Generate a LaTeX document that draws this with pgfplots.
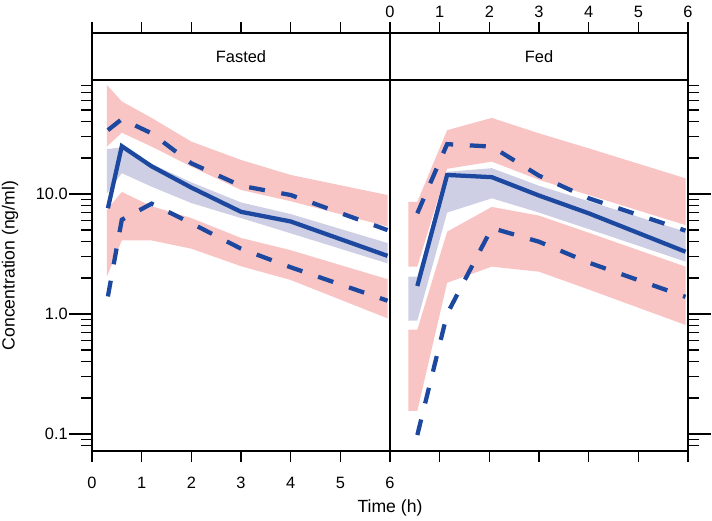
\documentclass[border=0pt]{standalone}
\usepackage{fontspec}
\setmainfont{Liberation Sans}
\usepackage{pgfplots}
\pgfplotsset{compat=1.18}
\definecolor{pinkband}{RGB}{249,196,196}
\definecolor{lavband}{RGB}{206,206,228}
\definecolor{medblue}{RGB}{28,72,160}
\newcommand{\lblfont}{\fontsize{12.3}{14}\selectfont}
\newcommand{\axfont}{\fontsize{13.2}{15}\selectfont}
\begin{document}
\begin{tikzpicture}
\useasboundingbox (-69pt,-51.75pt) rectangle (465pt,338.25pt);
% ---------------- Fasted ----------------
\begin{semilogyaxis}[name=L, at={(0pt,0pt)}, anchor=south west,
  scale only axis, width=223.5pt, height=278.25pt,
  xmin=0, xmax=6, ymin=0.0722, ymax=89,
  xtick=\empty, tick align=outside,
  major tick length=17pt, minor tick length=8.25pt,
  ytick={0.1,1,10}, yticklabels={0.1,1.0,10.0}, ytick pos=left,
  minor ytick={0.08,0.09,0.2,0.3,0.4,0.5,0.6,0.7,0.8,0.9,2,3,4,5,6,7,8,9,20,30,40,50,60,70,80},
  axis line style={line width=1.1pt},
  tick style={black, line width=1.1pt},
  tick label style={font=\lblfont},
  yticklabel style={inner xsep=1pt}]
\addplot[fill=pinkband, draw=none] coordinates {
 (0.3,81) (0.6,59) (1.2,43) (2,27.3) (3,19.2) (4,14.4) (5.95,9.8)
 (5.95,5.35) (4,8.7) (3,10.8) (2,16.9) (1.2,24.8) (0.6,32.4) (0.3,24.8)};
\addplot[fill=lavband, draw=none] coordinates {
 (0.3,23.6) (0.6,24.5) (1.2,17.8) (2,12.5) (3,8.5) (4,6.8) (5.95,3.9)
 (5.95,2.64) (4,4.7) (3,6.3) (2,8.4) (1.2,11.5) (0.6,14.9) (0.3,10.1)};
\addplot[fill=pinkband, draw=none] coordinates {
 (0.3,7.4) (0.6,10.4) (1.2,7.9) (2,6.3) (3,4.3) (4,3.4) (5.95,1.95)
 (5.95,0.92) (4,1.92) (3,2.5) (2,3.5) (1.2,4.1) (0.6,4.1) (0.3,2.05)};
\addplot[medblue, line width=3.2pt, dash pattern=on 12pt off 12.5pt] coordinates {(0.32,34) (0.6,42) (1.2,32) (2,18) (3,11.7) (4,9.8) (5.95,5.0)};
\addplot[medblue, line width=3.2pt] coordinates {(0.32,7.6) (0.6,25) (1.2,17) (2,11.3) (3,7.1) (4,5.9) (5.95,3.05)};
\addplot[medblue, line width=3.2pt, dash pattern=on 12pt off 12.5pt] coordinates {(0.32,1.4) (0.6,6.1) (1.2,8.3) (2,5.7) (3,3.5) (4,2.45) (5.95,1.29)};
\end{semilogyaxis}
% ---------------- Fed ----------------
\begin{semilogyaxis}[name=R, at={(223.5pt,0pt)}, anchor=south west,
  scale only axis, width=223.5pt, height=278.25pt,
  xmin=0, xmax=6, ymin=0.0722, ymax=89,
  xtick=\empty, tick align=outside,
  major tick length=17pt, minor tick length=8.25pt,
  ytick={0.1,1,10}, yticklabels={}, ytick pos=right,
  minor ytick={0.08,0.09,0.2,0.3,0.4,0.5,0.6,0.7,0.8,0.9,2,3,4,5,6,7,8,9,20,30,40,50,60,70,80},
  axis line style={line width=1.1pt},
  tick style={black, line width=1.1pt}]
\addplot[fill=pinkband, draw=none] coordinates {
 (0.37,8.6) (0.55,8.6) (1.15,34) (2.05,43) (3,32) (4,24) (5.95,13.5)
 (5.95,5.5) (4,9.8) (3,13.1) (2.05,18.6) (1.15,16.2) (0.55,2.48) (0.37,2.48)};
\addplot[fill=lavband, draw=none] coordinates {
 (0.37,2.05) (0.55,2.05) (1.15,15.3) (2.05,16.4) (3,11.7) (4,8.7) (5.95,4.85)
 (5.95,2.73) (4,5.1) (3,7.0) (2.05,9.2) (1.15,7.0) (0.55,0.88) (0.37,0.88)};
\addplot[fill=pinkband, draw=none] coordinates {
 (0.37,0.74) (0.55,0.74) (1.15,4.85) (2.05,7.8) (3,6.6) (4,4.75) (5.95,2.48)
 (5.95,0.81) (4,1.6) (3,2.25) (2.05,2.48) (1.15,1.82) (0.55,0.156) (0.37,0.156)};
\addplot[medblue, line width=3.2pt, dash pattern=on 12pt off 12.5pt] coordinates {(0.55,6.9) (1.15,26) (2.05,24.8) (3,14.2) (4,9.2) (5.95,4.95)};
\addplot[medblue, line width=3.2pt] coordinates {(0.55,1.71) (1.15,14.4) (2.05,13.8) (3,9.7) (4,6.9) (5.95,3.3)};
\addplot[medblue, line width=3.2pt, dash pattern=on 12pt off 12.5pt] coordinates {(0.55,0.098) (1.15,1.0) (2.05,5.2) (3,4.0) (4,2.68) (5.95,1.39)};
\end{semilogyaxis}
% ---------------- bottom x ticks ----------------
\begin{axis}[at={(0pt,0pt)}, anchor=south west,
  scale only axis, width=223.5pt, height=278.25pt,
  xmin=0, xmax=6, ymin=0, ymax=1,
  xtick={0,1,2,3,4,5,6}, xticklabels={0,1,2,3,4,5,6}, xtick pos=bottom, tick align=outside,
  major tick length=8pt, ytick=\empty,
  axis line style={draw=none},
  tick style={black, line width=1.1pt},
  tick label style={font=\lblfont},
  xticklabel style={yshift=-8pt}]
\end{axis}
\begin{axis}[at={(223.5pt,0pt)}, anchor=south west,
  scale only axis, width=223.5pt, height=278.25pt,
  xmin=0, xmax=6, ymin=0, ymax=1,
  xtick={0,1,2,3,4,5,6}, xticklabels={}, xtick pos=bottom, tick align=outside,
  major tick length=8pt, ytick=\empty,
  axis line style={draw=none},
  tick style={black, line width=1.1pt}]
\end{axis}
% ---------------- strips ----------------
\begin{axis}[at={(0pt,278.25pt)}, anchor=south west,
  scale only axis, width=223.5pt, height=35.25pt,
  xmin=0, xmax=6, ymin=0, ymax=1,
  xtick={0,1,2,3,4,5,6}, xticklabels={}, xtick pos=top, tick align=outside,
  major tick length=8pt, ytick=\empty,
  axis line style={line width=1.1pt},
  tick style={black, line width=1.1pt}]
\node[font=\lblfont] at (rel axis cs:0.5,0.5) {Fasted};
\end{axis}
\begin{axis}[at={(223.5pt,278.25pt)}, anchor=south west,
  scale only axis, width=223.5pt, height=35.25pt,
  xmin=0, xmax=6, ymin=0, ymax=1,
  xtick={0,1,2,3,4,5,6}, xticklabels={0,1,2,3,4,5,6}, xtick pos=top, xticklabel pos=top, tick align=outside,
  major tick length=8pt, ytick=\empty,
  axis line style={line width=1.1pt},
  tick style={black, line width=1.1pt},
  tick label style={font=\lblfont}]
\node[font=\lblfont] at (rel axis cs:0.5,0.5) {Fed};
\end{axis}
% ---------------- labels ----------------
\node[font=\axfont] at (223.5pt,-42.75pt) {Time (h)};
\node[rotate=90, font=\axfont] at (-61.5pt,139.1pt) {Concentration (ng/ml)};
\end{tikzpicture}
\end{document}
